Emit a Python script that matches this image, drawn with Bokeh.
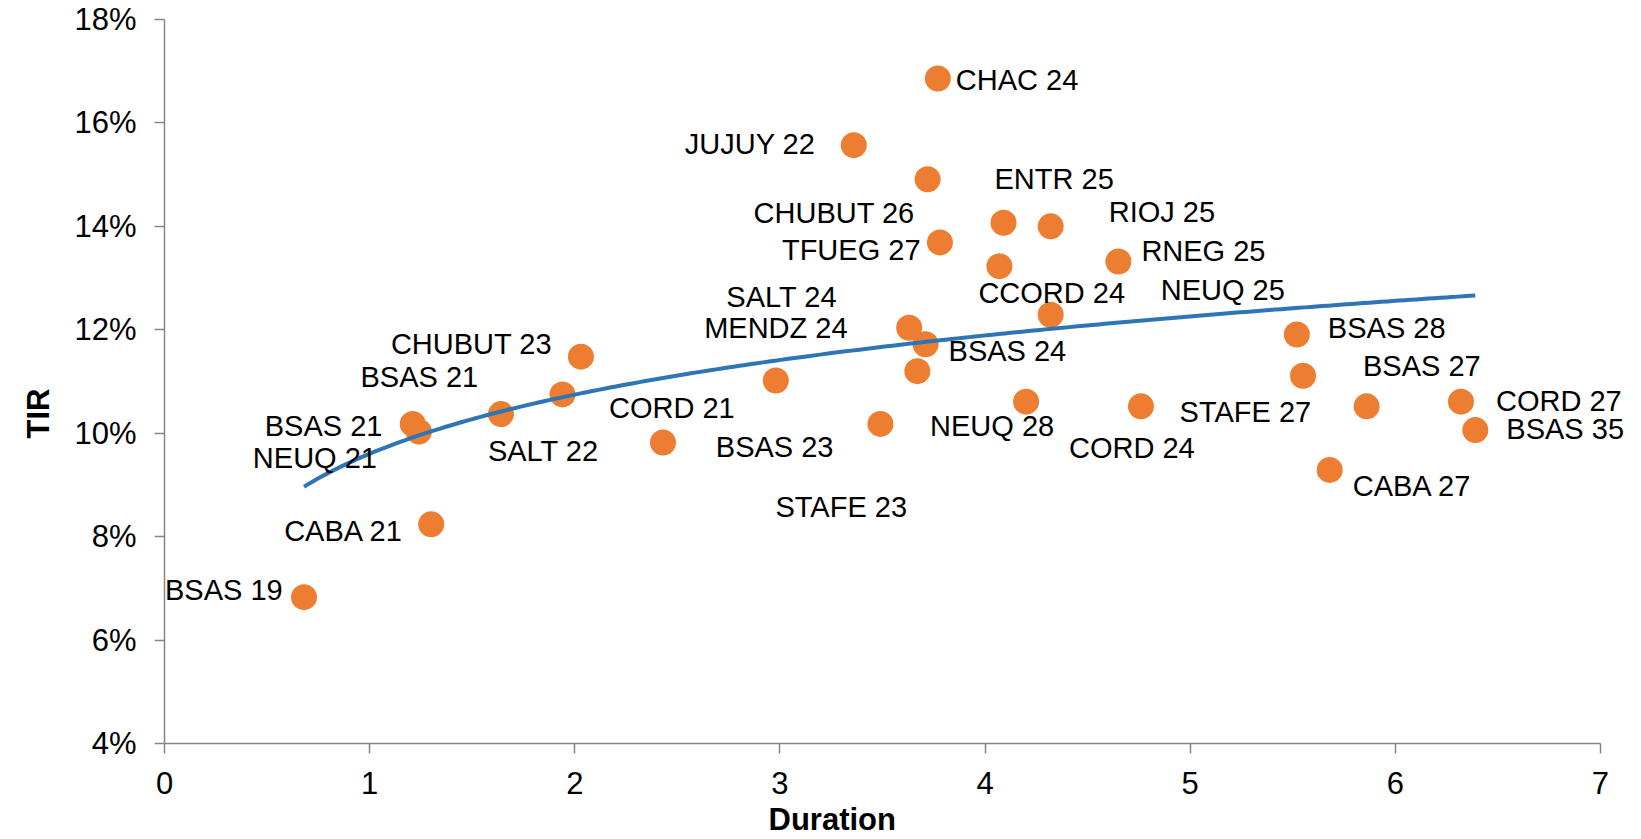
import numpy as np
from bokeh.plotting import figure
from bokeh.models import (ColumnDataSource, LabelSet, Range1d, Title,
                          FixedTicker, NumeralTickFormatter)
from bokeh.core.properties import value
from bokeh.embed import file_html
from bokeh.resources import INLINE

# Provincial bonds: name, modified duration (years) and yield (TIR)
bond_names = [
    "CHAC 24", "JUJUY 22", "CHUBUT 26", "ENTR 25", "RIOJ 25", "TFUEG 27",
    "CCORD 24", "RNEG 25", "NEUQ 25", "MENDZ 24", "BSAS 24", "SALT 24",
    "BSAS 23", "CHUBUT 23", "BSAS 21", "SALT 22", "BSAS 21", "NEUQ 21",
    "CORD 21", "STAFE 23", "NEUQ 28", "CORD 24", "BSAS 28", "BSAS 27",
    "STAFE 27", "CORD 27", "BSAS 35", "CABA 27", "CABA 21", "BSAS 19",
]
duration = [
    3.77, 3.36, 3.72, 4.09, 4.32, 3.78,
    4.07, 4.65, 4.32, 3.63, 3.71, 3.67,
    2.98, 2.03, 1.94, 1.64, 1.21, 1.24,
    2.43, 3.49, 4.20, 4.76, 5.52, 5.55,
    5.86, 6.32, 6.39, 5.68, 1.30, 0.68,
]
tir = [
    0.1686, 0.1557, 0.1491, 0.1407, 0.1400, 0.1369,
    0.1323, 0.1332, 0.1229, 0.1204, 0.1172, 0.1120,
    0.1102, 0.1148, 0.1075, 0.1037, 0.1018, 0.1003,
    0.0982, 0.1018, 0.1061, 0.1052, 0.1191, 0.1111,
    0.1052, 0.1061, 0.1006, 0.0929, 0.0824, 0.0683,
]

# Where each data label sits relative to its marker (screen pixels, up = +)
label_dx = [
    18, -169, -174, -9, 58, -158,
    -21, 23, 110, -205, 23, -191,
    -60, -190, -202, -13, -148, -166,
    -54, -105, -96, -72, 31, 60,
    -187, 35, 31, 23, -147, -139,
]
label_dy = [
    -2, 1, -34, 44, 14, -8,
    -27, 11, 25, 0, -7, 74,
    -67, 13, 17, -37, -2, -26,
    35, -83, -24, -42, 6, 10,
    -6, 1, 1, -16, -7, 7,
]

ticks_x = [0, 1, 2, 3, 4, 5, 6, 7]
ticks_y = [0.04, 0.06, 0.08, 0.10, 0.12, 0.14, 0.16, 0.18]

FONT = "Liberation Sans"
ORANGE = "#ED7D31"
BLUE = "#2E75B6"
AXIS_GREY = "#868686"

# Logarithmic trend line fitted to the bonds: TIR = a + b * ln(duration)
d = np.array(duration)
r = np.array(tir)
b, a = np.polyfit(np.log(d), r, 1)
trend_x = np.linspace(d.min(), d.max(), 200)
trend_y = a + b * np.log(trend_x)

# The x range runs a little past 7 so the rightmost labels stay visible;
# the x axis itself is kept to 0..7.
p = figure(
    width=1641, height=839,
    x_range=Range1d(0, 7.2), y_range=Range1d(0.04, 0.18),
    output_backend="svg", toolbar_location=None,
    min_border_left=164, min_border_right=0,
    min_border_top=19, min_border_bottom=95,
)
p.outline_line_color = None
p.xgrid.visible = False
p.ygrid.visible = False
p.background_fill_color = "white"
p.border_fill_color = "white"

src = ColumnDataSource(dict(
    x=duration, y=tir, name=bond_names, dx=label_dx, dy=label_dy,
))

p.scatter("x", "y", source=src, size=26, fill_color=ORANGE,
          line_color=None)
p.line(trend_x, trend_y, line_color=BLUE, line_width=4)

labels = LabelSet(
    x="x", y="y", text="name", source=src,
    x_offset="dx", y_offset="dy",
    text_font=value(FONT), text_font_size=value("29px"),
    text_color="black", text_align="left", text_baseline="middle",
)
p.add_layout(labels)

for ax in (p.xaxis[0], p.yaxis[0]):
    ax.axis_line_color = AXIS_GREY
    ax.axis_line_width = 1.5
    ax.major_tick_line_color = AXIS_GREY
    ax.major_tick_line_width = 1.5
    ax.major_tick_in = 0
    ax.major_tick_out = 10
    ax.minor_tick_line_color = None
    ax.major_label_text_font = FONT
    ax.major_label_text_font_size = "31px"
    ax.major_label_text_color = "black"
    ax.major_label_standoff = 18

p.xaxis.ticker = FixedTicker(ticks=ticks_x)
p.xaxis.bounds = (0, 7)
p.yaxis.ticker = FixedTicker(ticks=ticks_y)
p.yaxis.formatter = NumeralTickFormatter(format="0%")

# Axis titles
p.add_layout(Title(
    text="Duration", align="left", offset=604, standoff=6,
    text_font=FONT, text_font_size="31px", text_font_style="bold",
    text_color="black",
), "below")
p.add_layout(Title(
    text="TIR", align="left", offset=305, standoff=31,
    text_font=FONT, text_font_size="31px", text_font_style="bold",
    text_color="black",
), "left")

open("out.html", "w").write(file_html(p, INLINE))
